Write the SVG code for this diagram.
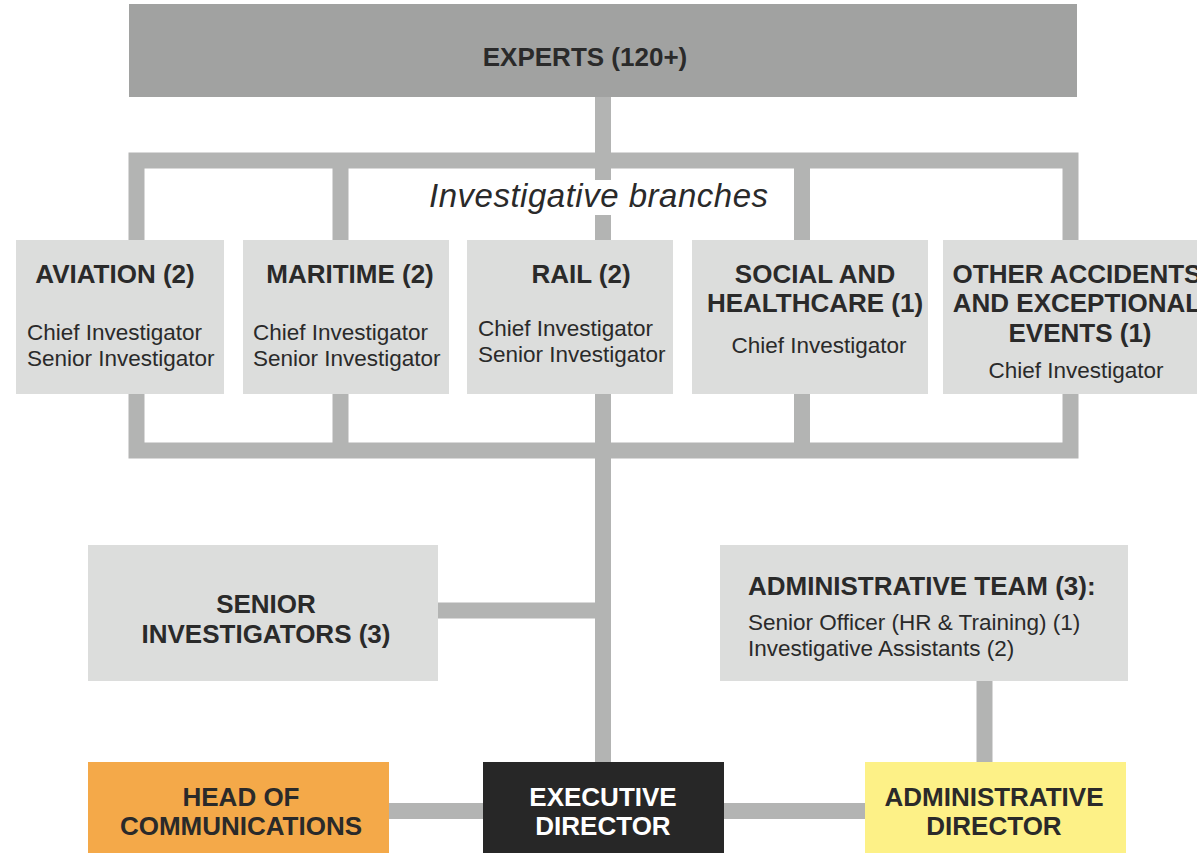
<svg xmlns="http://www.w3.org/2000/svg" width="1197" height="853" viewBox="0 0 1197 853">
<style>
.c{fill:none;stroke:#b3b4b3;stroke-width:16;stroke-linejoin:miter;stroke-linecap:butt}
.box{fill:#dcdddc}
.t{font-family:"Liberation Sans",Arial,sans-serif;font-weight:bold;font-size:26px;fill:#2a2a2a}
.s{font-family:"Liberation Sans",Arial,sans-serif;font-size:22.5px;fill:#2a2a2a}
.m{text-anchor:middle}
</style>
<rect width="1197" height="853" fill="#ffffff"/>
<g id="connectors">
<path class="c" d="M603,97 V160.5"/>
<path class="c" d="M136.5,240 V160.5 H1070.5 V240"/>
<path class="c" d="M340.5,160.5 V240 M802,160.5 V240 M603,160.5 V180 M603,215 V240"/>
<path class="c" d="M136.5,394 V450.5 H1070.5 V394 M340.5,394 V450.5 M802,394 V450.5"/>
<path class="c" d="M603,394 V762"/>
<path class="c" d="M438,610.5 H603"/>
<path class="c" d="M389,811 H483 M724,811 H865"/>
<path class="c" d="M984.5,681 V762"/>
</g>
<g id="experts">
<rect x="129" y="4" width="948" height="93" fill="#a1a2a1"/>
<text class="t m" x="585" y="66">EXPERTS (120+)</text>
</g>
<g id="branches-label">
<text x="429" y="207" font-family="Liberation Sans,Arial,sans-serif" font-style="italic" font-size="33" fill="#2a2a2a" textLength="339">Investigative branches</text>
</g>
<g id="aviation">
<rect class="box" x="16" y="240" width="208" height="154"/>
<text class="t m" x="115" y="283">AVIATION (2)</text>
<text class="s" x="27" y="340">Chief Investigator</text>
<text class="s" x="27" y="366">Senior Investigator</text>
</g>
<g id="maritime">
<rect class="box" x="243" y="240" width="206" height="154"/>
<text class="t m" x="350" y="283">MARITIME (2)</text>
<text class="s" x="253" y="340">Chief Investigator</text>
<text class="s" x="253" y="366">Senior Investigator</text>
</g>
<g id="rail">
<rect class="box" x="467" y="240" width="206" height="154"/>
<text class="t m" x="581" y="283">RAIL (2)</text>
<text class="s" x="478" y="336">Chief Investigator</text>
<text class="s" x="478" y="362">Senior Investigator</text>
</g>
<g id="social">
<rect class="box" x="692" y="240" width="236" height="154"/>
<text class="t m" x="815" y="283">SOCIAL AND</text>
<text class="t m" x="815" y="312">HEALTHCARE (1)</text>
<text class="s m" x="819" y="353">Chief Investigator</text>
</g>
<g id="other">
<rect class="box" x="943" y="240" width="254" height="154"/>
<text class="t m" x="1077" y="283">OTHER ACCIDENTS</text>
<text class="t m" x="1077" y="312">AND EXCEPTIONAL</text>
<text class="t m" x="1080" y="342">EVENTS (1)</text>
<text class="s m" x="1076" y="378">Chief Investigator</text>
</g>
<g id="senior-investigators">
<rect class="box" x="88" y="545" width="350" height="136"/>
<text class="t m" x="266" y="613">SENIOR</text>
<text class="t m" x="266" y="643">INVESTIGATORS (3)</text>
</g>
<g id="admin-team">
<rect class="box" x="720" y="545" width="408" height="136"/>
<text class="t" x="748" y="595">ADMINISTRATIVE TEAM (3):</text>
<text class="s" x="748" y="630">Senior Officer (HR &amp; Training) (1)</text>
<text class="s" x="748" y="656">Investigative Assistants (2)</text>
</g>
<g id="head-of-communications">
<rect x="88" y="762" width="301" height="91" fill="#f4a949"/>
<text class="t m" x="241" y="806">HEAD OF</text>
<text class="t m" x="241" y="835">COMMUNICATIONS</text>
</g>
<g id="executive-director">
<rect x="483" y="762" width="241" height="91" fill="#272727"/>
<text class="t m" x="603" y="806" style="fill:#ffffff">EXECUTIVE</text>
<text class="t m" x="603" y="835" style="fill:#ffffff">DIRECTOR</text>
</g>
<g id="administrative-director">
<rect x="865" y="762" width="261" height="91" fill="#fdf187"/>
<text class="t m" x="994" y="806">ADMINISTRATIVE</text>
<text class="t m" x="994" y="835">DIRECTOR</text>
</g>
</svg>
